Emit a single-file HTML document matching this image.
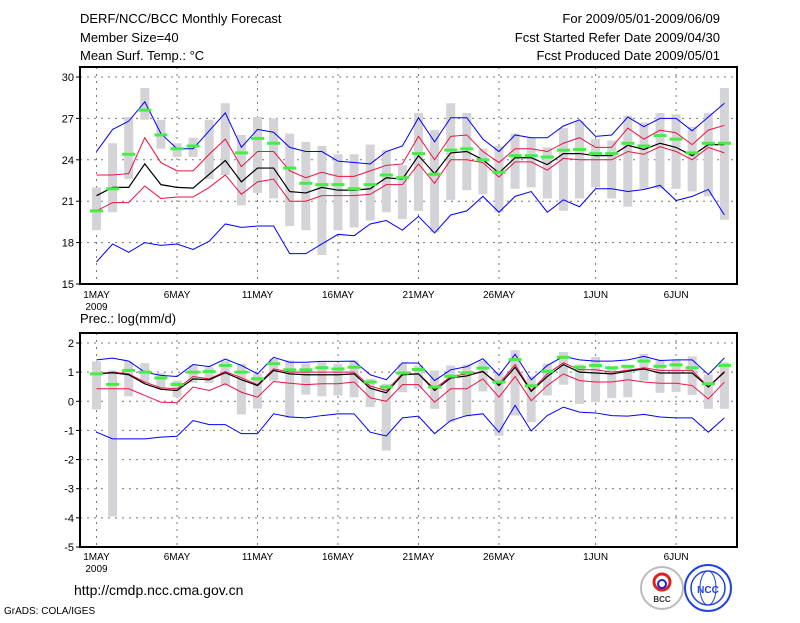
<!DOCTYPE html>
<html><head><meta charset="utf-8"><style>
body{margin:0;background:#fff;width:800px;height:618px;overflow:hidden;font-family:"Liberation Sans",sans-serif}
svg text{font-family:"Liberation Sans",sans-serif}
</style></head><body>
<svg id="chart" width="800" height="618" xmlns="http://www.w3.org/2000/svg">
<g id="hdr" font-size="13" fill="#000">
<text x="80" y="23">DERF/NCC/BCC Monthly Forecast</text>
<text x="80" y="42">Member Size=40</text>
<text x="80" y="60">Mean Surf. Temp.: °C</text>
<text x="720" y="23" text-anchor="end">For 2009/05/01-2009/06/09</text>
<text x="720" y="42" text-anchor="end">Fcst Started Refer Date 2009/04/30</text>
<text x="720" y="60" text-anchor="end">Fcst Produced Date 2009/05/01</text>
<text x="80" y="323">Prec.: log(mm/d)</text>
<text x="74" y="595" font-size="14">http://cmdp.ncc.cma.gov.cn</text>
<text x="4" y="614" font-size="10">GrADS: COLA/IGES</text>
</g>
<g>
<circle cx="662" cy="588" r="21" fill="#fff" stroke="#bbb" stroke-width="2"/>
<circle cx="662" cy="582" r="8" fill="none" stroke="#d22" stroke-width="3"/>
<circle cx="662" cy="584" r="4" fill="none" stroke="#22c" stroke-width="2"/>
<text x="662" y="602" font-size="8" text-anchor="middle" font-weight="bold" fill="#333">BCC</text>
</g>
<g>
<circle cx="708" cy="588" r="23" fill="#fff" stroke="#2244dd" stroke-width="2"/>
<ellipse cx="708" cy="588" rx="17" ry="17" fill="none" stroke="#2244dd" stroke-width="1.5"/>
<ellipse cx="708" cy="588" rx="8" ry="17" fill="none" stroke="#2244dd" stroke-width="1"/>
<text x="708" y="593" font-size="10" text-anchor="middle" font-weight="bold" fill="#2244dd">NCC</text>
</g>
<g id="top"></g>
<g id="bot"></g>
</svg>
<script>
const xLabels=["1MAY","6MAY","11MAY","16MAY","21MAY","26MAY","1JUN","6JUN"];
const xLabelDays=[0,5,10,15,20,25,31,36];
const tTicks=[15,18,21,24,27,30];
const pTicks=[2,1,0,-1,-2,-3,-4,-5];
// Temperature series (40 days)
const tBlueHi=[24.6,26.2,26.8,28.2,25.9,24.8,24.8,26.1,27.4,24.9,26.2,26.0,24.9,24.6,24.6,23.9,23.8,23.7,24.6,25.0,27.05,25.3,27.05,27.05,25.5,24.6,25.8,25.6,25.6,26.45,26.9,25.7,25.8,27.1,26.4,27.0,27.0,26.1,27.1,28.1];
const tRedHi=[22.9,22.9,23.0,25.6,23.8,23.2,23.2,24.4,25.5,23.5,24.6,24.6,23.2,22.7,23.1,22.8,22.8,23.2,23.6,23.7,25.7,24.0,25.7,25.8,24.6,23.8,24.8,24.8,24.6,25.2,25.6,24.9,24.9,26.3,25.5,26.15,25.95,25.1,26.15,26.5];
const tMean=[21.4,22.0,22.0,23.7,22.2,22.0,21.95,22.95,23.95,22.4,23.4,23.4,21.7,21.6,22.0,21.8,21.8,21.9,22.7,22.6,24.3,23.0,24.5,24.6,24.0,23.05,24.15,24.15,23.65,24.45,24.45,24.3,24.3,25.05,24.75,25.2,24.9,24.3,25.1,25.1];
const tRedLo=[20.3,20.9,20.9,22.1,21.2,21.3,21.3,22.0,22.9,21.5,22.4,22.6,21.0,21.0,21.4,21.4,21.4,21.5,22.2,22.2,23.7,22.3,24.0,24.0,23.8,22.75,23.85,23.85,23.25,24.1,24.0,24.0,24.0,24.6,24.4,24.95,24.6,24.0,24.9,24.5];
const tBlueLo=[16.6,17.9,17.3,18.0,17.8,17.9,17.5,18.1,19.35,19.1,19.2,19.2,17.2,17.2,17.9,18.6,18.5,19.35,19.6,18.9,19.9,18.7,20.0,20.3,21.35,20.2,21.35,21.7,20.2,21.1,20.6,21.9,21.9,21.7,21.85,22.15,21.05,21.35,21.85,20.0];
const tGreen=[20.3,21.9,24.4,27.6,25.8,24.8,25.0,null,null,24.5,25.55,25.2,23.4,22.3,22.2,22.2,21.9,22.2,22.9,22.7,24.45,22.95,24.7,24.8,24.0,23.1,24.3,24.3,24.2,24.7,24.75,24.45,24.45,25.2,25.0,25.75,25.5,24.5,25.2,25.2];
const tBarHi=[22.0,25.2,27.1,29.2,26.9,25.2,25.6,26.9,28.1,25.8,27.1,27.0,25.9,25.3,25.0,24.4,24.4,25.1,24.7,23.6,27.4,26.15,28.1,27.4,24.8,25.0,25.9,25.6,24.9,26.3,26.8,25.5,25.4,27.2,26.7,27.4,27.3,26.4,27.4,29.2];
const tBarLo=[18.9,20.2,22.6,26.9,24.8,24.2,24.2,22.6,22.9,20.7,21.6,21.2,19.2,18.9,17.1,18.9,19.1,19.6,20.2,19.7,20.3,18.75,21.1,21.8,21.5,20.2,21.9,22.0,21.2,20.3,21.2,22.0,21.2,20.6,21.9,21.9,21.9,21.7,21.35,19.65];
// Precipitation series (log mm/d)
const pBlueHi=[1.42,1.48,1.38,1.0,0.89,0.85,1.26,1.19,1.45,1.23,0.94,1.51,1.34,1.34,1.37,1.37,1.38,0.91,0.74,1.32,1.31,0.71,1.08,1.19,1.46,0.89,1.61,0.74,1.23,1.54,1.42,1.38,1.38,1.42,1.54,1.4,1.42,1.42,0.92,1.49];
const pRedHi=[0.94,1.0,0.94,0.66,0.46,0.43,0.85,0.77,1.02,0.81,0.57,1.11,1.0,1.0,1.0,1.0,1.0,0.52,0.37,0.94,0.94,0.43,0.85,0.94,1.0,0.6,1.26,0.37,0.94,1.32,1.08,1.08,1.0,1.06,1.15,1.06,1.06,1.06,0.49,1.03];
const pMean=[0.94,0.98,0.91,0.6,0.41,0.37,0.77,0.74,0.98,0.74,0.54,1.06,0.94,0.91,0.91,0.91,0.94,0.45,0.29,0.91,0.94,0.37,0.8,0.87,1.03,0.54,1.17,0.34,0.85,1.26,1.0,0.97,0.94,1.03,1.11,0.97,0.97,0.97,0.49,1.0];
const pRedLo=[0.43,0.43,0.43,0.2,-0.03,-0.05,0.49,0.37,0.6,0.31,0.14,0.68,0.62,0.57,0.6,0.6,0.66,0.12,0.0,0.57,0.57,-0.03,0.43,0.43,0.77,0.14,0.85,0.02,0.54,0.94,0.71,0.66,0.66,0.74,0.66,0.62,0.62,0.54,0.08,0.66];
const pBlueLo=[-1.06,-1.29,-1.29,-1.29,-1.23,-1.2,-0.66,-0.8,-0.8,-1.11,-1.11,-0.43,-0.54,-0.57,-0.49,-0.43,-0.43,-1.06,-1.19,-0.57,-0.51,-1.11,-0.66,-0.49,-0.43,-1.06,-0.14,-1.02,-0.49,-0.2,-0.37,-0.4,-0.49,-0.51,-0.45,-0.54,-0.57,-0.57,-1.06,-0.57];
const pGreen=[0.94,0.58,1.06,1.0,0.8,0.58,1.0,1.02,1.23,1.0,0.77,1.29,1.08,1.08,1.15,1.11,1.17,0.66,0.49,0.97,1.09,0.49,0.86,0.98,1.14,0.66,1.43,0.53,1.03,1.51,1.17,1.23,1.15,1.2,1.38,1.2,1.25,1.15,0.6,1.23];
const pBarHi=[1.37,1.06,1.37,1.31,0.97,0.71,1.23,1.17,1.4,1.29,0.95,1.46,1.4,1.29,1.34,1.29,1.4,0.77,0.6,1.29,1.23,1.06,1.23,1.26,1.4,1.0,1.75,0.86,1.29,1.69,1.26,1.52,1.11,1.23,1.63,1.43,1.43,1.54,0.92,1.34];
const pBarLo=[-0.28,-3.95,0.17,0.63,0.43,0.14,0.63,0.62,0.54,-0.45,-0.25,0.71,-0.57,0.23,0.17,0.2,0.14,-0.2,-1.69,0.31,0.43,-0.26,-0.72,-0.53,0.34,-1.18,-0.49,-0.72,0.2,0.57,-0.09,-0.03,0.11,0.14,0.71,0.29,0.32,0.22,-0.26,-0.26];

const NS="http://www.w3.org/2000/svg";
const X0=80,X1=737;
const xDay=d=>96.5+d*16.1;
function mk(parent,tag,attrs){const e=document.createElementNS(NS,tag);for(const k in attrs)e.setAttribute(k,attrs[k]);parent.appendChild(e);return e;}

function panel(gid,top,bottom,vmin,vmax,ticks,bHi,bLo,bH,rH,mean,rL,bL,green,name,labelY){
  const g=document.getElementById(gid);
  const y=v=>bottom-(v-vmin)/(vmax-vmin)*(bottom-top-10);
  // grid
  ticks.forEach(t=>{
    const gl=mk(g,'line',{x1:X0,x2:X1,y1:y(t),y2:y(t),stroke:'#777','stroke-dasharray':'2,5','stroke-width':1});
    
    
    const tk=mk(g,'line',{x1:X0-4,x2:X0,y1:y(t),y2:y(t),stroke:'#000'});
    
    
    const tx=mk(g,'text',{x:X0-6,y:y(t)+4,'font-size':11,'text-anchor':'end'});
    tx.textContent=t;
    
    
  });
  xLabelDays.forEach((d,i)=>{
    const gl=mk(g,'line',{x1:xDay(d),x2:xDay(d),y1:top,y2:bottom,stroke:'#777','stroke-dasharray':'2,5'});
    
    
    const tx=mk(g,'text',{x:xDay(d),y:labelY,'font-size':10,'text-anchor':'middle'});
    tx.textContent=xLabels[i];
    
    
  });
  const yr=mk(g,'text',{x:xDay(0),y:labelY+12,'font-size':10,'text-anchor':'middle'});
  yr.textContent='2009';
  
  
  // bars
  bHi.forEach((v,i)=>{
    const r=mk(g,'rect',{x:xDay(i)-4.5,y:y(v),width:9,height:y(bLo[i])-y(v),fill:'#d4d4d8'});
    
    
  });
  const line=(arr,col,w,n)=>{
    const p=mk(g,'polyline',{points:arr.map((v,i)=>xDay(i)+','+y(v)).join(' '),fill:'none',stroke:col,'stroke-width':w});
    
    
  };
  line(bH,'#0000ff',1,'blue-upper-line');
  line(bL,'#0000ff',1,'blue-lower-line');
  line(rH,'#ee1144',1,'red-upper-line');
  line(rL,'#ee1144',1,'red-lower-line');
  line(mean,'#000',1.2,'mean-line');
  green.forEach((v,i)=>{
    if(v==null)return;
    const r=mk(g,'rect',{x:xDay(i)-6.5,y:y(v)-1.5,width:13,height:3,fill:'#44ee44'});
    
    
  });
  const b=mk(g,'rect',{x:X0,y:top,width:X1-X0,height:bottom-top,fill:'none',stroke:'#000','stroke-width':2});
  
  
}
panel('top',67,284,15,30,tTicks,tBarHi,tBarLo,tBlueHi,tRedHi,tMean,tRedLo,tBlueLo,tGreen,'temp',298);
panel('bot',333,547,-5,2,pTicks,pBarHi,pBarLo,pBlueHi,pRedHi,pMean,pRedLo,pBlueLo,pGreen,'precip',560);
</script>
</body></html>
